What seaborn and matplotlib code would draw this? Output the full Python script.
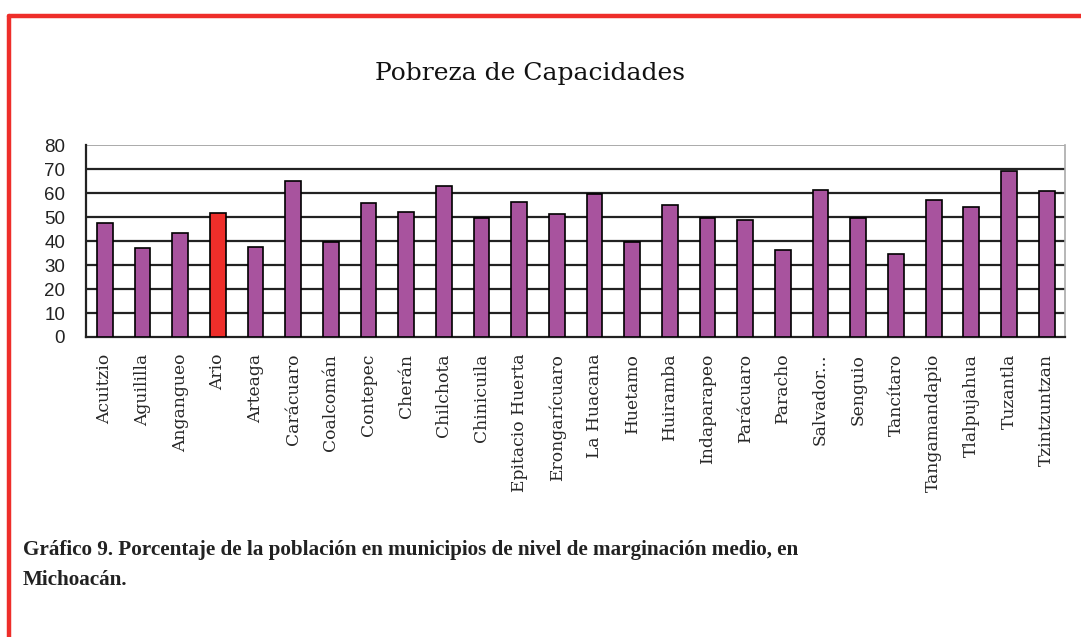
import numpy as np
import pandas as pd
import matplotlib
matplotlib.use("Agg")
import matplotlib.pyplot as plt
import seaborn as sns

municipios = ["Acuitzio", "Aguililla", "Angangueo", "Ario", "Arteaga", "Carácuaro",
              "Coalcomán", "Contepec", "Cherán", "Chilchota", "Chinicuila",
              "Epitacio Huerta", "Erongarícuaro", "La Huacana", "Huetamo", "Huiramba",
              "Indaparapeo", "Parácuaro", "Paracho", "Salvador...", "Senguio",
              "Tancítaro", "Tangamandapio", "Tlalpujahua", "Tuzantla", "Tzintzuntzan"]
pobreza = [47.7, 37.0, 43.4, 51.6, 37.6, 65.1, 39.8, 55.7, 52.2, 62.9, 49.8,
           56.5, 51.5, 59.8, 39.8, 55.0, 49.8, 48.7, 36.2, 61.5, 49.7,
           34.8, 57.3, 54.3, 69.2, 60.8]
destacado = "Ario"

df = pd.DataFrame({"municipio": municipios, "pobreza": pobreza})
purple = "#A8539E"
red = "#EE2E2A"
colores = {m: (red if m == destacado else purple) for m in municipios}

sns.set_style("white")

fig = plt.figure(figsize=(10.81, 6.37), dpi=100)
ax = fig.add_axes([0.0796, 0.471, 0.906, 0.301])

sns.barplot(data=df, x="municipio", y="pobreza", hue="municipio", palette=colores,
            legend=False, width=0.42, edgecolor="black", linewidth=1.2,
            saturation=1, ax=ax, zorder=3)

ax.set_ylim(0, 80)
ax.set_yticks(range(0, 81, 10))
ax.set_xlim(-0.5, len(municipios) - 0.5)
for v in range(10, 80, 10):
    ax.axhline(v, color="#222222", linewidth=1.6, zorder=1)
ax.axhline(80, color="#aaaaaa", linewidth=1.4, zorder=1)

ax.set_xlabel("")
ax.set_ylabel("")
ax.spines["top"].set_visible(False)
ax.spines["left"].set_color("#222222")
ax.spines["left"].set_linewidth(1.6)
ax.spines["bottom"].set_color("#222222")
ax.spines["bottom"].set_linewidth(1.6)
ax.spines["right"].set_color("#aaaaaa")
ax.spines["right"].set_linewidth(1.2)

ax.set_xticks(np.arange(len(municipios)))
ax.set_xticklabels(municipios, rotation=90, fontsize=12.3, family="DejaVu Serif",
                   va="top", ha="center")
ax.tick_params(axis="x", length=0, pad=12)
ax.set_xticks(np.arange(-0.5, len(municipios)), minor=True)
ax.tick_params(axis="x", which="minor", length=6, width=1.4, color="#222222", direction="out")
ax.tick_params(axis="y", length=6, width=1.4, color="#222222", direction="out",
               labelsize=13.5, pad=9)
for t in ax.get_yticklabels():
    t.set_family("Liberation Sans")
    t.set_color("#222222")

fig.text(0.49, 0.885, "Pobreza de Capacidades", ha="center", va="center",
         fontsize=18, family="DejaVu Serif", color="#111111")

fig.text(0.021, 0.137, "Gráfico 9. Porcentaje de la población en municipios de nivel de marginación medio, en",
         ha="left", va="center", fontsize=15.2, family="Liberation Serif", weight="bold", color="#222222")
fig.text(0.021, 0.089, "Michoacán.", ha="left", va="center", fontsize=15.2,
         family="Liberation Serif", weight="bold", color="#222222")

# marco rojo (superior e izquierdo)
fig.add_artist(plt.Line2D([0.0085, 1.0], [0.975, 0.975], color=red, linewidth=3.2,
                          transform=fig.transFigure))
fig.add_artist(plt.Line2D([0.0085, 0.0085], [0.0, 0.975], color=red, linewidth=3.2,
                          transform=fig.transFigure))

fig.savefig("out.png", dpi=100)
